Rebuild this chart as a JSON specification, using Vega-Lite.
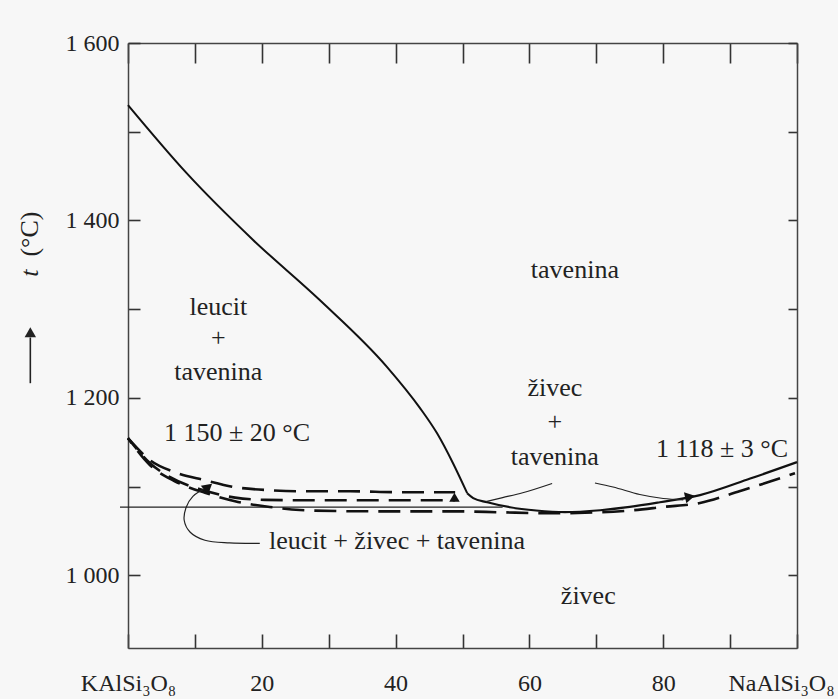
{
  "$schema": "https://vega.github.io/schema/vega-lite/v6.json",
  "width": 669,
  "height": 605,
  "autosize": {"type": "none"},
  "padding": {"left": 128, "top": 43, "right": 41, "bottom": 51},
  "background": "#f7f7f7",
  "config": {
    "view": {"stroke": null},
    "axis": {
      "grid": false,
      "title": null,
      "domainColor": "#444",
      "tickColor": "#333",
      "domainWidth": 1.5,
      "tickWidth": 1.6,
      "labelFont": "Liberation Serif",
      "labelFontSize": 24,
      "labelColor": "#222"
    },
    "text": {"font": "Liberation Serif", "fontSize": 26, "color": "#222"}
  },
  "datasets": {
    "liq": [
      {"x": 0, "t": 1530}, {"x": 8.8, "t": 1453}, {"x": 18.7, "t": 1378},
      {"x": 28.7, "t": 1310}, {"x": 38.7, "t": 1235}, {"x": 43.6, "t": 1189},
      {"x": 46.2, "t": 1160}, {"x": 48.6, "t": 1126}, {"x": 50.7, "t": 1092.5}
    ],
    "solr": [
      {"x": 50.7, "t": 1092.5}, {"x": 51.6, "t": 1087}, {"x": 53.7, "t": 1082.3},
      {"x": 57.1, "t": 1076.7}, {"x": 61, "t": 1073}, {"x": 65.3, "t": 1071.1},
      {"x": 70.6, "t": 1073.3}, {"x": 75, "t": 1077}, {"x": 79.5, "t": 1082.3},
      {"x": 85.5, "t": 1090.4}, {"x": 93, "t": 1109}, {"x": 100, "t": 1127.5}
    ],
    "horiz": [{"x": -1.2, "t": 1076.7}, {"x": 56, "t": 1076.7}],
    "dup": [
      {"x": 0, "t": 1154.5}, {"x": 3.3, "t": 1129.7}, {"x": 7.0, "t": 1116.2},
      {"x": 11.5, "t": 1107.2}, {"x": 16.0, "t": 1099.3}, {"x": 21.2, "t": 1095.9},
      {"x": 25.7, "t": 1094.7}, {"x": 33.2, "t": 1094.7}, {"x": 40.7, "t": 1093.6},
      {"x": 48.9, "t": 1093.6}
    ],
    "dmid": [
      {"x": 0, "t": 1154.5}, {"x": 3.3, "t": 1126.3}, {"x": 6.3, "t": 1110.5},
      {"x": 11.2, "t": 1096}, {"x": 16.0, "t": 1087.5}, {"x": 20.5, "t": 1085},
      {"x": 25.7, "t": 1084.6}, {"x": 33.2, "t": 1084.6}, {"x": 40.7, "t": 1084.6},
      {"x": 48.9, "t": 1084.6}
    ],
    "dlow": [
      {"x": 0, "t": 1154.5}, {"x": 3.3, "t": 1124}, {"x": 7.0, "t": 1106},
      {"x": 11.5, "t": 1093}, {"x": 16.0, "t": 1083.5}, {"x": 21.2, "t": 1077},
      {"x": 25.7, "t": 1073.5}, {"x": 33.2, "t": 1072.2}, {"x": 40.7, "t": 1072},
      {"x": 49.6, "t": 1072}, {"x": 55.6, "t": 1071}, {"x": 63.1, "t": 1069.9},
      {"x": 70.6, "t": 1071}, {"x": 75.5, "t": 1073.3}, {"x": 80, "t": 1077},
      {"x": 85.5, "t": 1081.5}, {"x": 91.5, "t": 1095}, {"x": 94.5, "t": 1102},
      {"x": 99.7, "t": 1115}
    ],
    "arcl": [
      {"x": 53.5, "t": 1083}, {"x": 56, "t": 1087.5}, {"x": 59, "t": 1093},
      {"x": 63.4, "t": 1103.5}
    ],
    "arcr": [
      {"x": 69.8, "t": 1104}, {"x": 72.5, "t": 1099.5}, {"x": 76.5, "t": 1091},
      {"x": 80, "t": 1086.5}, {"x": 83, "t": 1085}
    ],
    "leader": [
      {"o": 1, "x": 19.7, "t": 1036}, {"o": 2, "x": 15.2, "t": 1036.5},
      {"o": 3, "x": 11.5, "t": 1039.5}, {"o": 4, "x": 9.3, "t": 1048.5},
      {"o": 5, "x": 8.4, "t": 1062}, {"o": 6, "x": 8.7, "t": 1076.7},
      {"o": 7, "x": 9.7, "t": 1089}, {"o": 8, "x": 11.6, "t": 1098}
    ],
    "labels": [
      {"x": 66.8, "t": 1344, "s": "tavenina"},
      {"x": 13.5, "t": 1302, "s": "leucit"},
      {"x": 13.5, "t": 1267, "s": "+"},
      {"x": 13.5, "t": 1229, "s": "tavenina"},
      {"x": 16.3, "t": 1160, "s": "1 150 ± 20 °C"},
      {"x": 63.8, "t": 1211, "s": "živec"},
      {"x": 63.8, "t": 1172.6, "s": "+"},
      {"x": 63.8, "t": 1133, "s": "tavenina"},
      {"x": 88.8, "t": 1142, "s": "1 118 ± 3 °C"},
      {"x": 40.2, "t": 1038.4, "s": "leucit + živec + tavenina"},
      {"x": 68.8, "t": 977, "s": "živec"}
    ]
  },
  "encoding": {
    "x": {"field": "x", "type": "quantitative", "scale": {"domain": [0, 100], "nice": false, "zero": false}, "axis": null},
    "y": {"field": "t", "type": "quantitative", "scale": {"domain": [918, 1600], "nice": false, "zero": false}, "axis": null}
  },
  "layer": [
    {
      "data": {"name": "liq"},
      "mark": {"type": "line", "color": "#111", "strokeWidth": 2, "interpolate": "monotone"},
      "encoding": {
        "x": {
          "field": "x", "type": "quantitative",
          "scale": {"domain": [0, 100], "nice": false, "zero": false},
          "axis": {
            "orient": "bottom",
            "values": [0, 10, 20, 30, 40, 50, 60, 70, 80, 90, 100],
            "ticks": true,
            "tickSize": -14,
            "labelPadding": 49,
            "labelBaseline": "middle",
            "labelExpr": "datum.value == 0 ? 'KAlSi₃O₈' : datum.value == 100 ? 'NaAlSi₃O₈' : (datum.value % 20 == 0 ? datum.label : '')",
            "labelOffset": {"condition": {"test": "datum.value == 100", "value": -16}, "value": 0},
            "labelFlush": false,
            "labelOverlap": false
          }
        },
        "y": {
          "field": "t", "type": "quantitative",
          "scale": {"domain": [918, 1600], "nice": false, "zero": false},
          "axis": {
            "orient": "left",
            "values": [1000, 1100, 1200, 1300, 1400, 1500, 1600],
            "tickSize": -12,
            "labelPadding": 21,
            "labelExpr": "datum.value % 200 == 0 ? replace(format(datum.value, ','), ',', ' ') : ''",
            "labelOverlap": false
          }
        }
      }
    },
    {
      "data": {"name": "solr"},
      "mark": {"type": "line", "color": "#111", "strokeWidth": 2.2, "interpolate": "monotone"},
      "encoding": {
        "x": {
          "field": "x", "type": "quantitative",
          "scale": {"domain": [0, 100], "nice": false, "zero": false},
          "axis": {
            "orient": "top",
            "values": [0, 10, 20, 30, 40, 50, 60, 70, 80, 90, 100],
            "ticks": true,
            "tickSize": -20,
            "labels": false
          }
        },
        "y": {
          "field": "t", "type": "quantitative",
          "scale": {"domain": [918, 1600], "nice": false, "zero": false},
          "axis": {
            "orient": "right",
            "values": [1000, 1100, 1200, 1300, 1400, 1500, 1600],
            "tickSize": -9,
            "labels": false
          }
        }
      }
    },
    {
      "data": {"name": "horiz"},
      "mark": {"type": "line", "color": "#222", "strokeWidth": 1.3},
      "encoding": {}
    },
    {
      "data": {"name": "dup"},
      "mark": {"type": "line", "color": "#111", "strokeWidth": 2.6, "strokeDash": [22, 10], "interpolate": "monotone"},
      "encoding": {}
    },
    {
      "data": {"name": "dmid"},
      "mark": {"type": "line", "color": "#111", "strokeWidth": 2.6, "strokeDash": [22, 10], "strokeDashOffset": 8, "interpolate": "monotone"},
      "encoding": {}
    },
    {
      "data": {"name": "dlow"},
      "mark": {"type": "line", "color": "#111", "strokeWidth": 2.6, "strokeDash": [22, 10], "strokeDashOffset": 16, "interpolate": "monotone"},
      "encoding": {}
    },
    {
      "data": {"name": "arcl"},
      "mark": {"type": "line", "color": "#222", "strokeWidth": 1.2, "interpolate": "monotone"},
      "encoding": {}
    },
    {
      "data": {"name": "arcr"},
      "mark": {"type": "line", "color": "#222", "strokeWidth": 1.2, "interpolate": "monotone"},
      "encoding": {}
    },
    {
      "data": {"name": "leader"},
      "mark": {"type": "line", "color": "#222", "strokeWidth": 1.2, "interpolate": "catmull-rom"},
      "encoding": {"order": {"field": "o", "type": "quantitative"}}
    },
    {
      "data": {"values": [{"x": 12.0, "t": 1099.5}]},
      "mark": {"type": "point", "shape": "triangle-up", "filled": true, "color": "#111", "opacity": 1, "size": 130, "angle": 50},
      "encoding": {}
    },
    {
      "data": {"values": [{"x": 48.8, "t": 1088}]},
      "mark": {"type": "point", "shape": "triangle-up", "filled": true, "color": "#111", "opacity": 1, "size": 110, "angle": 0},
      "encoding": {}
    },
    {
      "data": {"values": [{"x": 84, "t": 1088.5}]},
      "mark": {"type": "point", "shape": "triangle-up", "filled": true, "color": "#111", "opacity": 1, "size": 130, "angle": 78},
      "encoding": {}
    },
    {
      "data": {"name": "labels"},
      "mark": {"type": "text", "font": "Liberation Serif", "fontSize": 26, "align": "center", "baseline": "middle"},
      "encoding": {"text": {"field": "s", "type": "nominal"}}
    },
    {
      "data": {"values": [{"x": -14.6, "t": 1340.6, "s": "t"}]},
      "mark": {"type": "text", "font": "Liberation Serif", "fontSize": 26, "angle": 270, "fontStyle": "italic", "align": "center", "baseline": "middle"},
      "encoding": {"text": {"field": "s", "type": "nominal"}}
    },
    {
      "data": {"values": [{"x": -14.6, "t": 1384.6, "s": "(°C)"}]},
      "mark": {"type": "text", "font": "Liberation Serif", "fontSize": 26, "angle": 270, "align": "center", "baseline": "middle"},
      "encoding": {"text": {"field": "s", "type": "nominal"}}
    },
    {
      "data": {"values": [{"x": -14.6, "t": 1216.5, "t2": 1268}]},
      "mark": {"type": "rule", "color": "#222", "strokeWidth": 1.6},
      "encoding": {"y2": {"field": "t2"}}
    },
    {
      "data": {"values": [{"x": -14.6, "t": 1274}]},
      "mark": {"type": "point", "shape": "triangle-up", "filled": true, "color": "#222", "opacity": 1, "size": 130},
      "encoding": {}
    }
  ],
  "resolve": {"axis": {"x": "independent", "y": "independent"}}
}
